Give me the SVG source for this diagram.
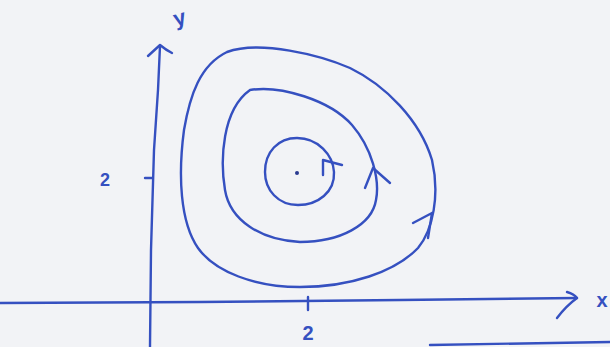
<svg xmlns="http://www.w3.org/2000/svg" width="610" height="347" viewBox="0 0 610 347">
<style>
.ink{fill:none;stroke:#3550c0;stroke-width:2.4;stroke-linecap:round;stroke-linejoin:round}
.lbl{font-family:"Liberation Sans",Arial,sans-serif;font-weight:bold;fill:#3550c0}
</style>
<rect width="610" height="347" fill="#f2f3f6"/>
<g id="axes">
<path class="ink" d="M150,347 L151,250 L154,150 L158,90 L160,46"/>
<path class="ink" d="M148,56 L160,45 Q166,50 172,53"/>
<path class="ink" d="M0,303 L200,302 L400,300 L577,298"/>
<path class="ink" d="M567,292 Q574,294 577,298 Q566,306 557,318"/>
<path class="ink" d="M145,178 L152,178"/>
<path class="ink" d="M308,297 L308,310"/>
<path class="ink" d="M430,345 L610,342"/>
</g>
<g id="labels">
<text class="lbl" x="105" y="186" font-size="18" text-anchor="middle">2</text>
<text class="lbl" x="308" y="340" font-size="20" text-anchor="middle">2</text>
<text class="lbl" x="180" y="25" font-size="22" font-weight="normal" text-anchor="middle" transform="rotate(-15 180 20)">y</text>
<text class="lbl" x="602" y="307" font-size="20" font-weight="normal" text-anchor="middle">x</text>
</g>
<g id="orbit-outer">
<path class="ink" d="M227,52 C260,40 320,55 350,68 C385,85 420,120 432,160 C440,195 433,230 418,248 C395,272 350,287 300,287 C255,287 215,272 198,248 C180,222 178,175 184,130 C190,95 200,65 227,52 Z"/>
<path class="ink" d="M413,223 L432,213 M428,238 L432,213"/>
</g>
<g id="orbit-middle">
<path class="ink" d="M250,90 C280,85 330,100 352,125 C372,148 380,180 376,200 C372,225 340,242 300,242 C260,240 230,220 225,190 C220,160 222,110 250,90 Z"/>
<path class="ink" d="M373,168 L390,183 M373,168 L365,188"/>
</g>
<g id="orbit-inner">
<path class="ink" d="M297,138 C318,138 333,155 334,172 C335,192 318,205 298,205 C278,205 265,190 265,172 C265,152 278,138 297,138 Z"/>
<path class="ink" d="M323,160 L342,165 M323,160 L323,175"/>
<circle cx="297" cy="173" r="2" fill="#2a3a90"/>
</g>
</svg>
